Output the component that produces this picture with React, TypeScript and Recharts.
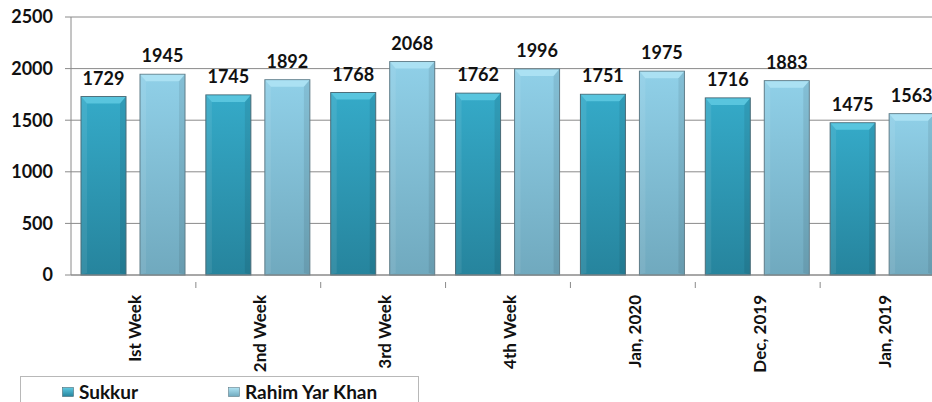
import { BarChart, Bar, XAxis, YAxis, CartesianGrid, LabelList } from "recharts"

const categories = ["Ist Week", "2nd Week", "3rd Week", "4th Week", "Jan, 2020", "Dec, 2019", "Jan, 2019"]
const sukkur = [1729, 1745, 1768, 1762, 1751, 1716, 1475]
const rahimYarKhan = [1945, 1892, 2068, 1996, 1975, 1883, 1563]
const yTicks = [0, 500, 1000, 1500, 2000, 2500]

const data = categories.map((name, i) => ({
  name,
  sukkur: sukkur[i],
  rahim: rahimYarKhan[i],
}))

const series = [
  { key: "sukkur", name: "Sukkur", top: "#35aac8", bottom: "#26849d", bevel: "#5fcae2", stroke: "#4a6b77" },
  { key: "rahim", name: "Rahim Yar Khan", top: "#90d0e8", bottom: "#70a9be", bevel: "#b0e4f4", stroke: "#5f7c88" },
]

const font = "Lato, 'Open Sans', sans-serif"

function BevelBar(props: any) {
  const { x, y, width, height, id, stroke, bevel } = props
  if (!height || height <= 0) return null
  const b = Math.min(7, height / 2)
  return (
    <g>
      <rect x={x} y={y} width={width} height={height} fill={`url(#grad-${id})`} stroke={stroke} strokeWidth={1} />
      <polygon
        points={`${x + 0.5},${y + 0.5} ${x + width - 0.5},${y + 0.5} ${x + width - 6},${y + b} ${x + 6},${y + b}`}
        fill={bevel}
        opacity={0.85}
      />
      <polygon
        points={`${x + 0.5},${y + 0.5} ${x + 6},${y + b} ${x + 6},${y + height - 2} ${x + 0.5},${y + height - 0.5}`}
        fill="#ffffff"
        opacity={0.08}
      />
      <polygon
        points={`${x + width - 0.5},${y + 0.5} ${x + width - 6},${y + b} ${x + width - 6},${y + height - 2} ${x + width - 0.5},${y + height - 0.5}`}
        fill="#000000"
        opacity={0.08}
      />
    </g>
  )
}

function CategoryTick(props: any) {
  const { x, y, payload } = props
  const half = payload?.offset ?? 0
  return (
    <g>
      <line x1={x + half} y1={y - 1} x2={x + half} y2={y + 5} stroke="#8a8a8a" />
      <text
        transform={`translate(${x + 8},${y + 12}) rotate(-90)`}
        textAnchor="end"
        fontFamily={font}
        fontWeight={700}
        fontSize={17}
        fill="#111"
      >
        {payload.value}
      </text>
    </g>
  )
}

function LegendIcon({ s }: { s: (typeof series)[number] }) {
  return (
    <svg width={12} height={10} style={{ marginRight: 5 }}>
      <defs>
        <linearGradient id={`lg-${s.key}`} x1="0" y1="0" x2="0" y2="1">
          <stop offset="0%" stopColor={s.bevel} />
          <stop offset="100%" stopColor={s.bottom} />
        </linearGradient>
      </defs>
      <rect x={0.5} y={0.5} width={11} height={9} fill={`url(#lg-${s.key})`} stroke={s.stroke} strokeWidth={0.6} />
    </svg>
  )
}

export default function App() {
  return (
    <div
      style={{
        position: "absolute",
        left: 0,
        top: 0,
        width: 932,
        height: 402,
        overflow: "hidden",
        background: "#fff",
      }}
    >
      <BarChart width={950} height={402} data={data} margin={{ top: 17, right: 5, left: 0, bottom: 0 }} barSize={45} barGap={14}>
        <defs>
          {series.map((s) => (
            <linearGradient key={s.key} id={`grad-${s.key}`} x1="0" y1="0" x2="0" y2="1">
              <stop offset="0%" stopColor={s.top} />
              <stop offset="100%" stopColor={s.bottom} />
            </linearGradient>
          ))}
        </defs>
        <CartesianGrid vertical={false} stroke="#8a8a8a" />
        <YAxis
          width={71}
          domain={[0, 2500]}
          ticks={yTicks}
          interval={0}
          tickSize={6}
          tickMargin={12}
          axisLine={{ stroke: "#8a8a8a" }}
          tickLine={{ stroke: "#8a8a8a" }}
          tick={{ fontFamily: font, fontWeight: 700, fontSize: 18, fill: "#111" }}
        />
        <XAxis
          dataKey="name"
          height={127}
          interval={0}
          axisLine={{ stroke: "#8a8a8a" }}
          tickLine={false}
          tick={<CategoryTick />}
        />
        {series.map((s) => (
          <Bar
            key={s.key}
            dataKey={s.key}
            name={s.name}
            isAnimationActive={false}
            shape={(p: any) => <BevelBar {...p} id={s.key} stroke={s.stroke} bevel={s.bevel} />}
          >
            <LabelList
              dataKey={s.key}
              position="top"
              offset={12}
              style={{ fontFamily: font, fontWeight: 700, fontSize: 18, fill: "#111" }}
            />
          </Bar>
        ))}
      </BarChart>
      <div
        style={{
          position: "absolute",
          left: 20,
          top: 376,
          width: 399,
          height: 40,
          border: "1px solid #b8b8b8",
          boxSizing: "border-box",
          fontFamily: font,
          fontWeight: 700,
          fontSize: 19,
          color: "#111",
        }}
      >
        <div style={{ position: "absolute", left: 41, top: 3, display: "flex", alignItems: "center" }}>
          <LegendIcon s={series[0]} />
          <span>{series[0].name}</span>
        </div>
        <div style={{ position: "absolute", left: 207, top: 3, display: "flex", alignItems: "center" }}>
          <LegendIcon s={series[1]} />
          <span>{series[1].name}</span>
        </div>
      </div>
    </div>
  )
}
